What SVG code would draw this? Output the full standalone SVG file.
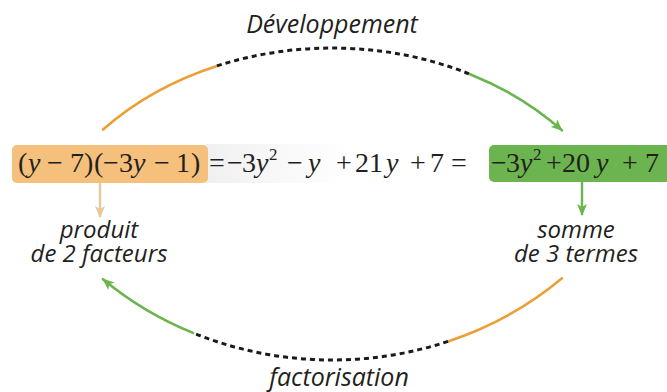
<svg xmlns="http://www.w3.org/2000/svg" width="667" height="392" viewBox="0 0 667 392">
<defs>
<style>
.lbl{font-family:"Open Sans","Liberation Sans",sans-serif;font-style:italic;font-size:24px;fill:#231f20;text-anchor:middle}
.big{font-size:25px}
.m{font-family:"Liberation Serif","Times New Roman",serif;font-size:28px;fill:#231f20}
.i{font-style:italic}
.sup{font-size:17px}
.or{fill:none;stroke:#eba035;stroke-width:2.6;stroke-linecap:round}
.gr{fill:none;stroke:#6cb44f;stroke-width:2.6;stroke-linecap:round}
.da{fill:none;stroke:#1a1a1a;stroke-width:3;stroke-dasharray:5 4}
.tan{fill:none;stroke:#e8c79c;stroke-width:2.4}
.grv{fill:none;stroke:#6cb44f;stroke-width:2.4}
</style>
<marker id="ag" viewBox="0 0 12 10" refX="11" refY="5" markerWidth="12" markerHeight="10" markerUnits="userSpaceOnUse" orient="auto">
<path d="M0,0 L12,5 L0,10 L3,5 z" fill="#6cb44f"/>
</marker>
<marker id="at" viewBox="0 0 12 10" refX="11" refY="5" markerWidth="12" markerHeight="10" markerUnits="userSpaceOnUse" orient="auto">
<path d="M0,0 L12,5 L0,10 L3,5 z" fill="#e8c79c"/>
</marker>
<linearGradient id="gmid" x1="0" y1="0" x2="1" y2="0">
<stop offset="0" stop-color="#f0f0f0"/>
<stop offset="1" stop-color="#ffffff"/>
</linearGradient>
</defs>
<rect width="667" height="392" fill="#ffffff"/>

<g id="connectors">
<path class="or" d="M103,129.5 A311,252 0 0 1 217,65.9"/>
<path class="da" d="M217,65.9 A311,252 0 0 1 470,74.2"/>
<path class="gr" d="M470,74.2 A311,252 0 0 1 562,130.4" marker-end="url(#ag)"/>
<path class="or" d="M562,278.3 A340,310 0 0 1 448,341.4"/>
<path class="da" d="M448,341.4 A340,310 0 0 1 193,332.9"/>
<path class="gr" d="M193,332.9 A340,310 0 0 1 103,279.2" marker-end="url(#ag)"/>
<path class="tan" d="M100,183 L100,217" marker-end="url(#at)"/>
<path class="grv" d="M582,182 L582,215" marker-end="url(#ag)"/>
</g>

<g id="label-developpement"><text class="lbl big" x="332" y="33">Développement</text></g>
<g id="label-factorisation"><text class="lbl big" x="339" y="386">factorisation</text></g>

<g id="node-produit-expr">
<rect x="206" y="144" width="140" height="39" fill="url(#gmid)"/>
<rect x="12" y="145" width="196" height="38" rx="5" fill="#f5bf7c"/>
<text class="m" y="172"><tspan x="18">(</tspan><tspan x="28" class="i">y</tspan><tspan x="47">−</tspan><tspan x="70">7</tspan><tspan x="84">)</tspan><tspan x="94">(</tspan><tspan x="103">−</tspan><tspan x="119">3</tspan><tspan x="133" class="i">y</tspan><tspan x="154">−</tspan><tspan x="176">1</tspan><tspan x="191">)</tspan></text>
</g>

<g id="node-middle">
<text class="m" y="172"><tspan x="209">=</tspan><tspan x="227">−</tspan><tspan x="242">3</tspan><tspan x="256" class="i">y</tspan><tspan x="269" y="160" class="sup">2</tspan><tspan x="287" y="172">−</tspan><tspan x="308" class="i">y</tspan><tspan x="336">+</tspan><tspan x="355">21</tspan><tspan x="386" class="i">y</tspan><tspan x="410">+</tspan><tspan x="430">7</tspan><tspan x="451">=</tspan></text>
</g>

<g id="node-somme-expr">
<rect x="489" y="145" width="185" height="37" rx="5" fill="#6cb44f"/>
<text class="m" y="172"><tspan x="491">−</tspan><tspan x="506">3</tspan><tspan x="520" class="i">y</tspan><tspan x="533" y="160" class="sup">2</tspan><tspan x="546" y="172">+</tspan><tspan x="562">20</tspan><tspan x="596" class="i">y</tspan><tspan x="622">+</tspan><tspan x="645">7</tspan></text>
</g>

<g id="label-produit">
<text class="lbl" x="99" y="238">produit</text>
<text class="lbl" x="99" y="262">de 2 facteurs</text>
</g>
<g id="label-somme">
<text class="lbl" x="576" y="238">somme</text>
<text class="lbl" x="576" y="262">de 3 termes</text>
</g>
</svg>
